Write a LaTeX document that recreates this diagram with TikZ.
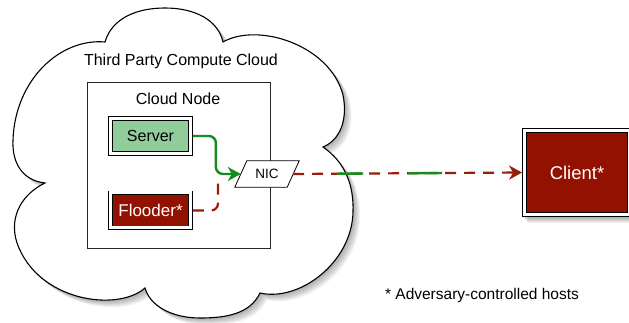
\documentclass[tikz,border=0pt]{standalone}
\usepackage{fontspec}
\setmainfont{Liberation Sans}
\usepackage{tikz}
\usetikzlibrary{positioning, calc}
\usetikzlibrary{arrows.meta}
\definecolor{hostgreen}{RGB}{145,205,155}
\definecolor{hostred}{RGB}{146,17,0}
\definecolor{linkgreen}{RGB}{20,140,30}
\definecolor{linkred}{RGB}{150,30,10}
\newcommand{\cloudpath}{
(105,42) .. controls (112,18) and (137,8) .. (165,8) .. controls (195,8) and (218,20) .. (223,42)
 .. controls (258,22) and (330,45) .. (343,95) .. controls (348,120) and (340,140) .. (323,147)
 .. controls (345,162) and (354,185) .. (353,212) .. controls (352,262) and (300,302) .. (260,293)
 .. controls (250,314) and (226,318) .. (200,318) .. controls (172,318) and (150,306) .. (145,288)
 .. controls (118,312) and (38,302) .. (17,243) .. controls (8,215) and (24,193) .. (45,183)
 .. controls (20,180) and (12,160) .. (13,140) .. controls (15,80) and (60,38) .. (105,42) -- cycle}
\newcommand{\fs}[1]{\fontsize{#1}{#1}\selectfont}

\begin{document}
\begin{tikzpicture}[x=1pt,y=-1pt,
    host/.style={draw, double=white, double distance=3pt, line width=0.9pt,
        minimum width=80pt, minimum height=35pt, inner sep=0pt, outer sep=2.4pt},
    greenlink/.style={draw=linkgreen, line width=2.4pt},
    redlink/.style={draw=linkred, line width=2.2pt, dash pattern=on 11pt off 8pt},
    tip/.style={-{Stealth[length=13pt,width=14pt,inset=4pt]}}]
    \path[use as bounding box] (0,0) rectangle (629,323);
    \clip (0,0) rectangle (629,323);
    % cloud with soft shadow
    \foreach \s in {1,...,7}
        \fill[black, opacity=0.05, xshift=\s pt, yshift=-\s pt] \cloudpath;
    \filldraw[fill=white, draw=black, line width=1.1pt] \cloudpath;
    \node[font=\fs{16}] (cloudlabel) at (181,61) {Third Party Compute Cloud};
    \node[draw=black!85, line width=0.9pt, minimum width=183pt, minimum height=166pt] (cloudnode) at (178.5,165) {};
    \node[font=\fs{16}] (nodelabel) at (178,99) {Cloud Node};
    \node[host, fill=hostgreen, font=\fs{16}] (server) at (150.5,136) {Server};
    \node[host, fill=hostred, text=white, font=\fs{17}] (flooder) at (150.5,210.5) {Flooder*};
    % NIC as a slanted box
    \node[minimum width=52pt, minimum height=26pt, inner sep=0pt] (nic) at (267,174) {};
    \filldraw[fill=white, draw=black, line width=0.8pt] ([xshift=-6pt]nic.south west) -- ([xshift=6pt]nic.north west)
        -- ([xshift=6pt]nic.north east) -- ([xshift=-6pt]nic.south east) -- cycle;
    \node[font=\fs{13.5}] (niclabel) at (nic) {NIC};
    % client, cut off at the right border
    \foreach \s in {1,...,6}
        \fill[black, opacity=0.06] ($(522,128)+(\s,\s)$) rectangle ($(640,217)+(\s,\s)$);
    \node[host, fill=hostred, text=white, font=\fs{18.5}, minimum width=105pt,
        minimum height=84pt] (client) at (577,172.5) {Client*};
    \coordinate (join) at (218,182);
    \draw[greenlink, rounded corners=7pt, tip] (server.east) -- ++(23,0) |- (nic.west);
    \draw[redlink, rounded corners=7pt] (flooder.east) -| (join);
    \draw[redlink, tip] (nic.east) -- (client.west);
    \draw[greenlink, dash pattern=on 0pt off 44pt on 26pt off 45pt on 34pt off 300pt] (nic.east) -- (client.west);
    \node[font=\fs{15.5}] (note) at (482,295) {* Adversary-controlled hosts};
\end{tikzpicture}
\end{document}
